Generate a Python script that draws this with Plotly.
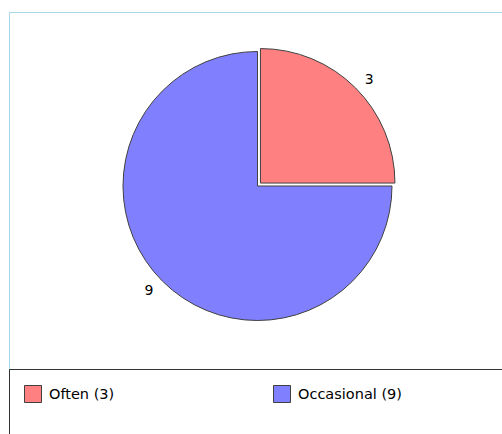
import plotly.graph_objects as go

# Survey answers shown as a pie with a frequency legend
labels = ["Often", "Occasional"]
values = [3, 9]
colors = ["#FF8080", "#8080FF"]
pulls = [0.031, 0.0]

W, H = 502, 434
CX, CY = 257.5, 186       # pie centre (px)
R_PIE = 134.5             # pie radius (px)
R_LABEL = 141.5           # radius the value labels sit outside of (px)


def px_x(x):
    return x / W


def px_y(y):
    return 1 - y / H


def pie_domain(r, pull):
    half = r * (1 + pull)
    return dict(x=[px_x(CX - half), px_x(CX + half)],
                y=[px_y(CY + half), px_y(CY - half)])


fig = go.Figure()

# the visible pie
fig.add_trace(go.Pie(
    labels=labels,
    values=values,
    marker=dict(colors=colors, line=dict(color="#404040", width=1)),
    pull=pulls,
    sort=False,
    direction="clockwise",
    rotation=0,
    textinfo="none",
    showlegend=False,
    hoverinfo="label+value",
    domain=pie_domain(R_PIE, max(pulls)),
))

# a transparent, slightly wider copy that carries the value labels
fig.add_trace(go.Pie(
    labels=labels,
    values=values,
    marker=dict(colors=["rgba(0,0,0,0)"] * len(values),
                line=dict(color="rgba(0,0,0,0)", width=0)),
    pull=pulls,
    sort=False,
    direction="clockwise",
    rotation=0,
    textinfo="value",
    textposition="outside",
    textfont=dict(family="DejaVu Sans", size=14, color="#000000"),
    showlegend=False,
    hoverinfo="skip",
    domain=pie_domain(R_LABEL, max(pulls)),
))

shapes = [
    # plot area frame
    dict(type="rect", xref="paper", yref="paper",
         x0=px_x(9.5), x1=px_x(W + 5), y0=px_y(369.5), y1=px_y(12.5),
         line=dict(color="#A8D8E8", width=1), fillcolor="rgba(0,0,0,0)"),
    # legend frame
    dict(type="rect", xref="paper", yref="paper",
         x0=px_x(9.5), x1=px_x(W + 5), y0=px_y(H + 5), y1=px_y(369.5),
         line=dict(color="#333333", width=1), fillcolor="rgba(0,0,0,0)"),
]
annotations = []

# legend entries laid out in two columns
legend_x = [24, 273]
for i, (lab, val, col) in enumerate(zip(labels, values, colors)):
    x0 = legend_x[i]
    shapes.append(dict(type="rect", xref="paper", yref="paper",
                       x0=px_x(x0 + 0.5), x1=px_x(x0 + 17.5),
                       y0=px_y(402.5), y1=px_y(385.5),
                       line=dict(color="#404040", width=1), fillcolor=col))
    annotations.append(dict(xref="paper", yref="paper",
                            x=px_x(x0 + 23), y=px_y(394),
                            xanchor="left", yanchor="middle",
                            text=f"{lab} ({val})", showarrow=False,
                            font=dict(family="DejaVu Sans", size=14.5, color="#000000")))

fig.update_layout(
    width=W, height=H,
    margin=dict(l=0, r=0, t=0, b=0),
    paper_bgcolor="white",
    plot_bgcolor="white",
    shapes=shapes,
    annotations=annotations,
)

fig.write_html("out.html")
